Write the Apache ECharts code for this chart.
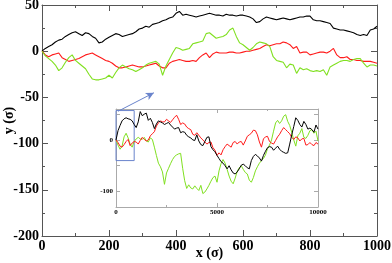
<!DOCTYPE html>
<html>
<head>
<meta charset="utf-8">
<script src="https://cdn.jsdelivr.net/npm/echarts@6.0.0/dist/echarts.min.js"></script>
<style>html,body{margin:0;padding:0;background:#fff}#c{width:392px;height:263px}</style>
</head>
<body>
<div id="c"></div>
<script>
// ---- main plot data (x in sigma) ----
const xMain = [0,10,20,30,40,50,60,70,80,90,100,110,120,130,140,150,160,170,180,190,200,210,220,230,240,250,260,270,280,290,300,310,320,330,340,350,360,370,380,390,400,410,420,430,440,450,460,470,480,490,500,510,520,530,540,550,560,570,580,590,600,610,620,630,640,650,660,670,680,690,700,710,720,730,740,750,760,770,780,790,800,810,820,830,840,850,860,870,880,890,900,910,920,930,940,950,960,970,980,990,1000];
const blackMain = [0,3,5,7,10,12,13,16,18,20,21,19,17,20,19,16,14,9,10,13,15,17,19,18,16,17,18,19,21,24,25,27,26,29,30,31,33,34,36,37,41,43,39,40,39,38,37,38,39,40,41,40,39,39,38,40,39,39,38,39,39,38,37,35,31,32,35,37,36,35,34,35,36,35,34,35,36,37,37,38,38,34,33,33,32,31,30,25,24,23,23,22,21,20,18,17,18,17,23,24,27];
const redMain = [0,-4,-6,-4,-3,-2,-7,-9,-11,-10,-9,-8,-6,-4,-3,-2,-4,-6,-8,-10,-11,-13,-16,-18,-18,-17,-16,-15,-16,-17,-17,-16,-15,-14,-13,-16,-18,-18,-13,-11,-10,-9,-10,-11,-11,-10,-11,-7,-4,-2,-7,-3,-1,-2,-2,-2,-1,-1,-2,-2,-1,0,0,1,2,3,5,7,6,7,8,8,10,9,7,3,5,-2,-1,-1,-4,-3,-2,-1,-1,-2,0,3,-4,-7,-7,-6,-9,-9,-10,-10,-11,-11,-11,-12,-13];
const greenMain = [0,-5,-8,-11,-15,-21,-18,-12,-7,-4,-10,-13,-16,-19,-25,-30,-31,-31,-30,-29,-26,-29,-23,-18,-15,-17,-19,-20,-22,-20,-18,-15,-13,-12,-11,-14,-26,-16,-9,-2,4,3,1,2,3,8,9,10,11,19,20,17,14,15,16,18,23,25,16,9,7,4,1,4,8,10,9,8,5,-6,-10,-11,-12,-18,-14,-15,-24,-18,-20,-19,-21,-22,-21,-22,-20,-26,-17,-15,-13,-11,-10,-10,-11,-9,-8,-8,-13,-17,-15,-15,-16];

// ---- inset data ----
const xInset = [0,100,200,300,400,500,600,700,800,900,1000,1100,1200,1300,1400,1500,1600,1700,1800,1900,2000,2100,2200,2300,2400,2500,2600,2700,2800,2900,3000,3100,3200,3300,3400,3500,3600,3700,3800,3900,4000,4100,4200,4300,4400,4500,4600,4700,4800,4900,5000,5100,5200,5300,5400,5500,5600,5700,5800,5900,6000,6100,6200,6300,6400,6500,6600,6700,6800,6900,7000,7100,7200,7300,7400,7500,7600,7700,7800,7900,8000,8100,8200,8300,8400,8500,8600,8700,8800,8900,9000,9100,9200,9300,9400,9500,9600,9700,9800,9900,10000];
const blackInset = [0,18,28,37,41,43,41,40,37,30,24,35,55,47,50,52,38,42,34,22,31,37,35,33,30,32,34,29,25,21,23,24,14,16,15,9,6,4,0,-1,10,-2,-9,-11,-3,5,6,-13,-19,-23,-30,-36,-42,-45,-50,-56,-50,-58,-64,-66,-62,-56,-49,-47,-50,-54,-56,-40,-32,-28,-31,-35,-41,-30,-22,-15,-13,-14,-20,-16,-12,-18,-22,-24,-26,-25,-8,10,26,43,38,30,25,36,30,21,23,20,15,29,21];
const redInset = [0,-5,-12,-14,-9,-3,1,-11,-6,-3,-4,-8,-1,5,1,-2,0,8,12,16,27,33,37,35,35,40,37,34,39,44,48,40,30,33,31,25,22,20,11,9,14,9,4,0,-4,-8,-5,-4,-15,-20,-30,-25,-29,-19,-13,-8,-11,-14,-5,-3,-8,-4,-3,-10,-2,7,10,13,19,18,10,-4,-14,2,6,7,-3,-6,-8,-1,6,11,18,24,20,16,12,5,1,6,4,-2,2,3,-10,-9,-5,-9,-11,-5,-8];
const greenInset = [0,-10,-18,-12,6,13,4,-8,-14,-3,2,5,2,1,5,-2,-4,4,1,-14,-30,-45,-52,-62,-86,-64,-55,-46,-38,-32,-29,-27,-26,-55,-79,-94,-87,-93,-95,-89,-94,-98,-88,-104,-101,-95,-88,-80,-73,-70,-82,-60,-46,-38,-45,-57,-70,-80,-85,-74,-61,-54,-50,-57,-63,-66,-78,-82,-73,-60,-52,-45,-40,-36,-29,-17,-10,0,17,33,38,32,37,46,49,36,28,15,0,-12,8,13,22,5,3,9,18,20,13,17,-2];

// ---- annotations ----
const zoomBox = [[0, 57], [900, -40]];      // inset coords
const arrowFrom = [227, -65];               // main coords
const arrowTo = [334, -45];                 // main coords
const insetYLabels = [-100, 0];
const insetYTicks = [-100, -50, 0, 50];

const pair = (xs, ys) => xs.map((x, i) => [x, ys[i]]);
const FONT = "'Liberation Serif','DejaVu Serif',serif";
const BLACK = '#000000', RED = '#ff1a1a', GREEN = '#80e020', BLUE = '#6a84cc';
const plain = v => String(v);

function mkX(grid, pos, show, o) {
  return Object.assign({
    type: 'value', gridIndex: grid, position: pos,
    axisLine: { show: true, onZero: false, lineStyle: { color: grid === 0 ? '#555' : '#aaa', width: 1 } },
    axisTick: { show: true, inside: true, length: grid === 0 ? 6 : 4, lineStyle: { color: grid === 0 ? '#555' : '#aaa' } },
    minorTick: { show: true, splitNumber: 2, length: grid === 0 ? 3 : 2, lineStyle: { color: grid === 0 ? '#555' : '#aaa' } },
    splitLine: { show: false }, minorSplitLine: { show: false },
    axisLabel: { show: show, formatter: plain, color: '#000', fontFamily: FONT, fontWeight: 'bold', fontSize: grid === 0 ? 14 : 7, margin: grid === 0 ? 3 : 2 }
  }, o);
}

const chart = echarts.init(document.getElementById('c'), null, { renderer: 'canvas' });
chart.setOption({
  animation: false,
  backgroundColor: '#fff',
  grid: [
    { left: 42, right: 15, top: 5, bottom: 27, outerBoundsMode: 'none', containLabel: false },
    { left: 116, right: 74, top: 109, bottom: 56, outerBoundsMode: 'none', containLabel: false, show: true, backgroundColor: '#fff', borderWidth: 0 }
  ],
  xAxis: [
    mkX(0, 'bottom', true, { min: 0, max: 1000, interval: 200,
      name: 'x (σ)', nameLocation: 'middle', nameGap: 10, nameMoveOverlap: false,
      nameTextStyle: { fontFamily: FONT, fontWeight: 'bold', fontSize: 14, color: '#000' } }),
    mkX(0, 'top', false, { min: 0, max: 1000, interval: 200 }),
    mkX(1, 'bottom', true, { min: 0, max: 10000, interval: 5000 }),
    mkX(1, 'top', false, { min: 0, max: 10000, interval: 5000 })
  ],
  yAxis: [
    mkX(0, 'left', true, { min: -200, max: 50, interval: 50,
      name: 'y (σ)', nameLocation: 'middle', nameGap: 26, nameMoveOverlap: false,
      nameTextStyle: { fontFamily: FONT, fontWeight: 'bold', fontSize: 14, color: '#000' } }),
    mkX(0, 'right', false, { min: -200, max: 50, interval: 50 }),
    mkX(1, 'left', true, { min: -130, max: 60,
      axisTick: { show: true, inside: true, length: 4, customValues: insetYTicks, lineStyle: { color: '#aaa' } },
      minorTick: { show: false },
      axisLabel: { show: true, customValues: insetYLabels, formatter: plain, color: '#000', fontFamily: FONT, fontWeight: 'bold', fontSize: 7, margin: 3 } }),
    mkX(1, 'right', false, { min: -130, max: 60,
      axisTick: { show: true, inside: true, length: 4, customValues: insetYTicks, lineStyle: { color: '#aaa' } },
      minorTick: { show: false } })
  ],
  series: [
    { type: 'line', xAxisIndex: 0, yAxisIndex: 0, data: pair(xMain, blackMain), showSymbol: false, lineStyle: { color: BLACK, width: 1.1 }, z: 3,
      markLine: { silent: true, symbol: ['none', 'arrow'], symbolSize: [6, 8], label: { show: false },
        lineStyle: { color: BLUE, width: 1, type: 'solid' }, emphasis: { disabled: true },
        data: [[{ coord: arrowFrom }, { coord: arrowTo }]] } },
    { type: 'line', xAxisIndex: 0, yAxisIndex: 0, data: pair(xMain, redMain), showSymbol: false, lineStyle: { color: RED, width: 1.1 }, z: 3 },
    { type: 'line', xAxisIndex: 0, yAxisIndex: 0, data: pair(xMain, greenMain), showSymbol: false, lineStyle: { color: GREEN, width: 1.1 }, z: 3 },
    { type: 'line', xAxisIndex: 2, yAxisIndex: 2, data: pair(xInset, greenInset), showSymbol: false, lineStyle: { color: GREEN, width: 1 }, z: 4 },
    { type: 'line', xAxisIndex: 2, yAxisIndex: 2, data: pair(xInset, redInset), showSymbol: false, lineStyle: { color: RED, width: 1 }, z: 4 },
    { type: 'line', xAxisIndex: 2, yAxisIndex: 2, data: pair(xInset, blackInset), showSymbol: false, lineStyle: { color: BLACK, width: 1 }, z: 4,
      markArea: { silent: true, itemStyle: { color: 'rgba(0,0,0,0)', borderColor: BLUE, borderWidth: 1 }, label: { show: false },
        data: [[{ coord: zoomBox[0] }, { coord: zoomBox[1] }]] } }
  ]
});
</script>
</body>
</html>
